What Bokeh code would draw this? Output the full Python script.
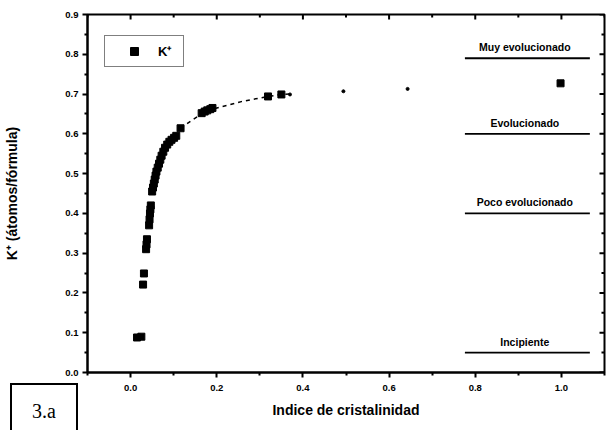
import math
from bokeh.plotting import figure
from bokeh.layouts import column
from bokeh.models import Range1d, FixedTicker, Legend, LegendItem, Div
from bokeh.core.properties import value
from bokeh.embed import file_html
from bokeh.resources import INLINE

# --- data ---
k_x = [0.015, 0.025, 0.029, 0.031, 0.036, 0.037, 0.038, 0.043, 0.044, 0.045, 0.046, 0.047,
       0.050, 0.052, 0.054, 0.056, 0.058, 0.060, 0.063, 0.066, 0.069, 0.072, 0.076, 0.080,
       0.085, 0.090, 0.095, 0.101, 0.106, 0.116, 0.165, 0.172, 0.178, 0.185, 0.190,
       0.319, 0.350, 0.998]
k_y = [0.088, 0.090, 0.221, 0.249, 0.310, 0.322, 0.335, 0.370, 0.385, 0.400, 0.410, 0.420,
       0.455, 0.465, 0.475, 0.485, 0.495, 0.505, 0.515, 0.525, 0.535, 0.545, 0.555, 0.565,
       0.573, 0.580, 0.585, 0.590, 0.595, 0.614, 0.652, 0.656, 0.659, 0.662, 0.665,
       0.694, 0.699, 0.727]

small_x = [0.370, 0.494, 0.643]
small_y = [0.699, 0.707, 0.713]

curve_x = [0.116, 0.141, 0.176, 0.210, 0.229, 0.257, 0.280, 0.319, 0.350, 0.370]
curve_y = [0.614, 0.633, 0.658, 0.668, 0.673, 0.681, 0.686, 0.694, 0.699, 0.700]

zone_names = ["Muy evolucionado", "Evolucionado", "Poco evolucionado", "Incipiente"]
zone_y = [0.79, 0.60, 0.40, 0.05]
zone_x0 = [0.776, 0.776, 0.776, 0.776]
zone_x1 = [1.066, 1.066, 1.066, 1.066]
zone_label_x = [0.915, 0.915, 0.915, 0.915]

x_ticks = [0.0, 0.2, 0.4, 0.6, 0.8, 1.0]
x_tick_labels = ["0.0", "0.2", "0.4", "0.6", "0.8", "1.0"]
x_minor = [-0.1, 0.1, 0.3, 0.5, 0.7, 0.9, 1.1]
y_ticks = [0.0, 0.1, 0.2, 0.3, 0.4, 0.5, 0.6, 0.7, 0.8, 0.9]
y_tick_labels = ["0.0", "0.1", "0.2", "0.3", "0.4", "0.5", "0.6", "0.7", "0.8", "0.9"]
y_minor = [0.05, 0.15, 0.25, 0.35, 0.45, 0.55, 0.65, 0.75, 0.85]

x_title = "Indice de cristalinidad"
y_title = "K\u207a (átomos/fórmula)"
legend_text = "K\u207a"
panel_tag = "3.a"

FONT = "Liberation Sans"

p = figure(width=611, height=430, output_backend="svg", toolbar_location=None,
           x_range=Range1d(-0.1, 1.1), y_range=Range1d(0.0, 0.9),
           min_border_left=87, min_border_right=7, min_border_top=14, min_border_bottom=58)
p.grid.visible = False
p.outline_line_color = "black"
p.outline_line_width = 2
p.outline_line_alpha = 1.0
p.background_fill_color = "white"
p.border_fill_color = "white"

xt = FixedTicker(ticks=x_ticks, minor_ticks=x_minor)
yt = FixedTicker(ticks=y_ticks, minor_ticks=y_minor)

for ax, t, labels in ((p.xaxis[0], xt, x_tick_labels), (p.yaxis[0], yt, y_tick_labels)):
    ax.ticker = t
    ax.major_label_overrides = {tk: lb for tk, lb in zip(t.ticks, labels)}
    ax.axis_line_color = "black"
    ax.major_tick_line_color = "black"
    ax.minor_tick_line_color = "black"
    ax.axis_line_width = 2
    ax.major_tick_line_width = 2
    ax.minor_tick_line_width = 2
    ax.major_tick_out = 5
    ax.major_tick_in = 0
    ax.minor_tick_out = 3
    ax.minor_tick_in = 0
    ax.major_label_text_font = FONT
    ax.major_label_text_font_style = "bold"
    ax.major_label_text_font_size = "9.5px"
    ax.major_label_text_color = "black"
    ax.axis_label_text_font = FONT
    ax.axis_label_text_font_style = "bold"
    ax.axis_label_text_font_size = "14px"
    ax.axis_label_text_color = "black"

p.xaxis[0].axis_label = x_title
p.xaxis[0].major_label_standoff = 7
p.xaxis[0].axis_label_standoff = 8
p.yaxis[0].axis_label = y_title
p.yaxis[0].major_label_standoff = 4
p.yaxis[0].axis_label_standoff = 42

# mirrored inward ticks on the top and right edges (half of each dash is clipped by the frame)
x_end = p.x_range.end
y_end = p.y_range.end
p.scatter(x_ticks, [y_end] * len(x_ticks), marker="dash", angle=math.pi / 2, size=10,
          line_color="black", line_width=2)
p.scatter(x_minor, [y_end] * len(x_minor), marker="dash", angle=math.pi / 2, size=6,
          line_color="black", line_width=2)
p.scatter([x_end] * len(y_ticks), y_ticks, marker="dash", size=10,
          line_color="black", line_width=2)
p.scatter([x_end] * len(y_minor), y_minor, marker="dash", size=6,
          line_color="black", line_width=2)

# zone lines and labels
p.segment(x0=zone_x0, y0=zone_y, x1=zone_x1, y1=zone_y, line_color="black", line_width=1.8)
p.text(x=zone_label_x, y=zone_y, text=zone_names, text_align="center", text_baseline="bottom",
       y_offset=-5, text_font=value(FONT), text_font_style="bold", text_font_size="10.5px",
       text_color="black")

# fitted dashed curve
p.line(curve_x, curve_y, line_color="black", line_width=1.5, line_dash="4 4")
# data
r = p.scatter(k_x, k_y, marker="square", size=7, color="black")
p.scatter(small_x, small_y, marker="circle", size=3, color="black")

legend = Legend(items=[LegendItem(label=legend_text, renderers=[r])], location=(17, 305),
                border_line_color="black", border_line_width=1.5, padding=5,
                glyph_width=48, glyph_height=20, label_height=20, label_standoff=0,
                label_text_font=FONT, label_text_font_style="bold", label_text_font_size="13px",
                label_text_color="black", background_fill_alpha=1.0)
p.add_layout(legend, "center")

# panel tag box in the lower-left corner (overlaps the figure's bottom border)
tag = Div(text=panel_tag, width=68, height=47, margin=(-47, 0, 0, 10),
          styles={"font-family": "Liberation Serif", "font-size": "20px", "line-height": "24px",
                  "color": "black", "text-align": "center", "padding-top": "14px",
                  "box-sizing": "border-box", "border": "2px solid black",
                  "border-bottom": "none", "background": "white", "z-index": "5"})

layout = column(p, tag, spacing=0)

open("out.html", "w").write(file_html(layout, INLINE))
